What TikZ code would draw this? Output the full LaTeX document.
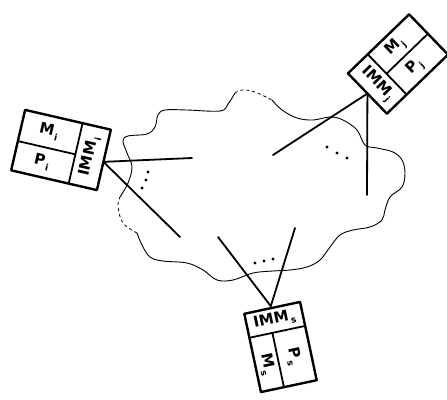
\documentclass[tikz,border=0pt]{standalone}
\usepackage{fontspec}
\setsansfont{DejaVu Sans}
\newcommand\mysub[1]{\hspace{1.5pt}\raisebox{-0.5ex}{\fontsize{9}{9}\selectfont #1}}
\begin{document}
\begin{tikzpicture}[x=1pt,y=-1pt,
  boxframe/.style={line width=2.4pt, line join=round},
  divider/.style={line width=1.8pt, line cap=round},
  link/.style={line width=1.8pt, line cap=round},
  cloudline/.style={line width=0.9pt, line cap=round},
  cloudgap/.style={line width=0.8pt, dash pattern=on 3pt off 3pt},
  lab/.style={font=\sffamily\bfseries\fontsize{15}{17}\selectfont, inner sep=0pt},
  dotmark/.style={fill=black}
]
\useasboundingbox (0,0) rectangle (447,399);

% cloud
\draw[cloudline] plot[smooth, tension=0.6] coordinates {(272,100) (282,110) (297,118) (313,120) (330,117) (343,120) (357,130) (365,145) (377,148) (393,152) (402,160) (405,173) (402,187) (390,197) (385,210) (382,220) (370,227) (353,230) (340,235) (330,247) (320,260) (307,267) (290,270) (273,271) (253,273) (233,280) (217,280) (203,270) (187,263) (163,261) (150,257) (142,245) (137,233)};
\draw[cloudgap] plot[smooth, tension=0.6] coordinates {(137,233) (123,223) (118,207) (120,197)};
\draw[cloudline] plot[smooth, tension=0.6] coordinates {(120,197) (128,183) (132,167) (127,153) (123,141) (128,136) (147,134) (155,127) (158,115) (165,110) (187,110) (220,111) (228,104) (235,93)};
\draw[cloudgap] plot[smooth, tension=0.6] coordinates {(235,93) (242,90) (255,92) (272,100)};

% box i (left)
\begin{scope}[shift={(61,150)}, rotate=-13, transform shape]
  \draw[boxframe] (-44,-31) rectangle (44,31);
  \draw[divider] (15,-31) -- (15,31);
  \draw[divider] (-44,1) -- (15,1);
  \node[lab] (mi) at (-16,-15) {M\mysub{i}};
  \node[lab] (pi) at (-16,16) {P\mysub{i}};
  \node[lab, rotate=90] (immi) at (29.5,0) {IMM\mysub{i}};
  \coordinate (ci) at (44,2);
\end{scope}

% box j (right)
\begin{scope}[shift={(398,64)}, rotate=44, transform shape]
  \draw[boxframe] (-42.5,-28) rectangle (42.5,28);
  \draw[divider] (-15,-28) -- (-15,28);
  \draw[divider] (-15,-1) -- (42.5,-1);
  \node[lab] (mj) at (10,-14) {M\mysub{j}};
  \node[lab] (pj) at (10,14) {P\mysub{j}};
  \node[lab, rotate=-90] (immj) at (-29,0) {IMM\mysub{j}};
  \coordinate (cj) at (-42.5,0);
\end{scope}

% box m (bottom)
\begin{scope}[shift={(280.5,347)}, rotate=12, transform shape]
  \draw[boxframe] (-28.5,-40) rectangle (28.5,40);
  \draw[divider] (-28.5,-15.5) -- (28.5,-15.5);
  \draw[divider] (-5,-15.5) -- (-5,40);
  \node[lab] (imms) at (0,-28) {IMM\mysub{s}};
  \node[lab, rotate=-90] (ms) at (-17,14) {M\mysub{s}};
  \node[lab, rotate=-90] (ps) at (11,12) {P\mysub{s}};
  \coordinate (cm) at (-1,-42);
\end{scope}

% free ends
\coordinate (ei1) at (192,158);
\coordinate (ei2) at (180,237);
\coordinate (ej1) at (273,155);
\coordinate (ej2) at (367,195);
\coordinate (em1) at (218,237);
\coordinate (em2) at (295,228);

\draw[link] (ci) -- (ei1);
\draw[link] (ci) -- (ei2);
\draw[link] (cj) -- (ej1);
\draw[link] (cj) -- (ej2);
\draw[link] (cm) -- (em1);
\draw[link] (cm) -- (em2);

% dots
\foreach \p in {(148,172),(146,180),(142,188),(327,147),(337,153),(347,158),(255,263),(264,261),(273,259)}
  \fill[dotmark] \p circle (1.6);
\end{tikzpicture}
\end{document}
